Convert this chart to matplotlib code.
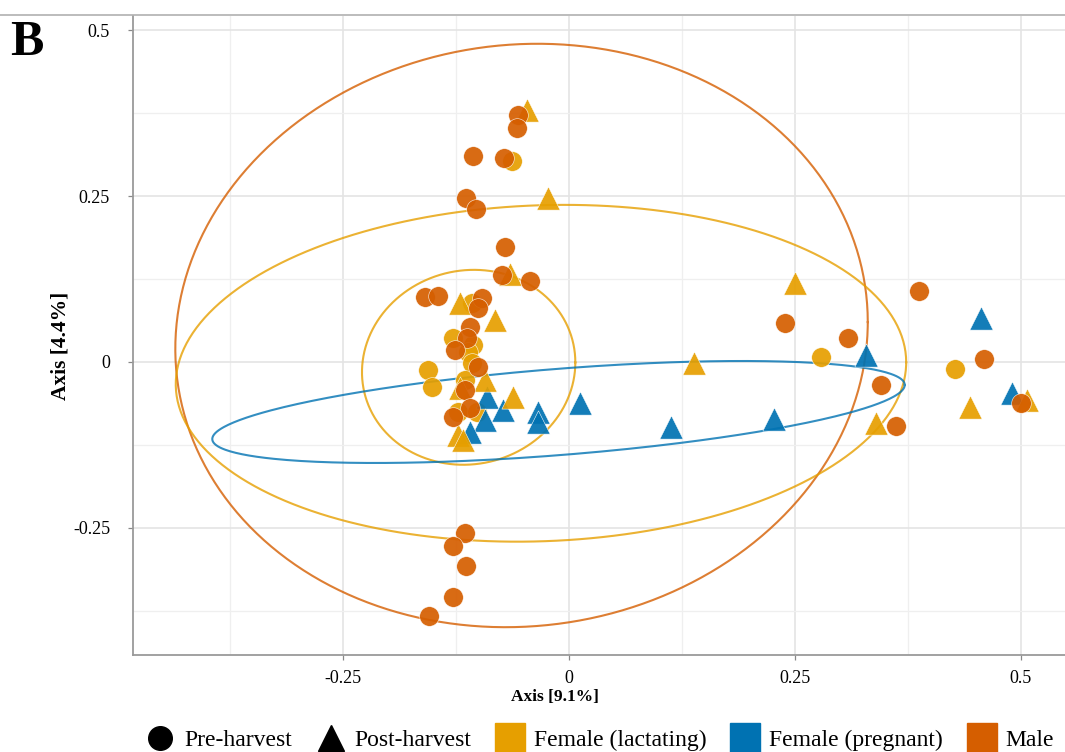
import numpy as np
import matplotlib
matplotlib.use("Agg")
import matplotlib.pyplot as plt
from matplotlib.lines import Line2D
from matplotlib.ticker import MultipleLocator

plt.rcParams['font.family'] = ['Liberation Serif', 'DejaVu Serif']

# ---------------- data ----------------
male_pre_x = [-0.056, -0.058, -0.106, -0.072, -0.114, -0.103, -0.071, -0.074, -0.043,
              -0.159, -0.145, -0.096, -0.101, -0.110, -0.113, -0.126, -0.101, -0.115,
              -0.110, -0.128, -0.115, -0.128, -0.114, -0.128, -0.155,
              0.239, 0.387, 0.309, 0.459, 0.345, 0.500, 0.362]
male_pre_y = [0.373, 0.353, 0.311, 0.308, 0.247, 0.231, 0.173, 0.131, 0.122,
              0.098, 0.100, 0.097, 0.081, 0.053, 0.036, 0.018, -0.008, -0.042,
              -0.069, -0.083, -0.258, -0.278, -0.308, -0.354, -0.383,
              0.059, 0.107, 0.036, 0.005, -0.035, -0.062, -0.097]

lact_pre_x = [-0.063, -0.107, -0.128, -0.106, -0.112, -0.107, -0.156, -0.152, -0.115,
              -0.123, -0.102, 0.279, 0.427]
lact_pre_y = [0.303, 0.089, 0.036, 0.026, 0.015, -0.002, -0.012, -0.038, -0.027,
              -0.075, -0.075, 0.008, -0.011]

lact_post_x = [-0.046, -0.023, -0.065, -0.121, -0.082, -0.093, -0.121, -0.062, -0.123,
               -0.117, 0.250, 0.138, 0.340, 0.444, 0.507]
lact_post_y = [0.380, 0.247, 0.133, 0.089, 0.063, -0.027, -0.039, -0.053, -0.110,
               -0.118, 0.119, -0.002, -0.092, -0.068, -0.057]

preg_post_x = [-0.091, -0.073, -0.093, -0.110, -0.034, -0.034, 0.012, 0.113, 0.227,
               0.329, 0.456, 0.490]
preg_post_y = [-0.053, -0.072, -0.087, -0.106, -0.075, -0.090, -0.062, -0.098, -0.086,
               0.011, 0.066, -0.047]

# ellipse summaries: centre x, centre y, x half-range, y half-range, tilt phase
ell_male = (-0.0525, 0.040, 0.383, 0.440, 0.046)
ell_lact_pre = (-0.031, -0.017, 0.404, 0.254, 0.065)
ell_lact_post = (-0.111, -0.008, 0.118, 0.147, 0.05)
ell_preg_post = (-0.0116, -0.0754, 0.383, 0.0769, 0.559)

x_ticks = [-0.25, 0, 0.25, 0.5]
x_ticklabels = ['-0.25', '0', '0.25', '0.5']
y_ticks = [-0.25, 0, 0.25, 0.5]
y_ticklabels = ['-0.25', '0', '0.25', '0.5']

C_LACT = '#E69F00'
C_PREG = '#0072B2'
C_MALE = '#D55E00'

# ---------------- figure ----------------
W, H = 1065, 752
fig = plt.figure(figsize=(W / 100, H / 100), dpi=100)
ax_left, ax_right, ax_bottom, ax_top = 133, 1065, 655, 16
ax = fig.add_axes([ax_left / W, 1 - ax_bottom / H, (ax_right - ax_left) / W, (ax_bottom - ax_top) / H])

x_px0, x_scale = 569, 904
y_px0, y_scale = 362, 663
ax.set_xlim((ax_left - x_px0) / x_scale, (ax_right - x_px0) / x_scale)
ax.set_ylim((y_px0 - ax_bottom) / y_scale, (y_px0 - ax_top) / y_scale)

ax.xaxis.set_minor_locator(MultipleLocator(0.125))
ax.yaxis.set_minor_locator(MultipleLocator(0.125))
ax.set_xticks(x_ticks)
ax.set_xticklabels(x_ticklabels)
ax.set_yticks(y_ticks)
ax.set_yticklabels(y_ticklabels)
ax.grid(which='major', color='#e4e4e4', lw=1.2, zorder=0)
ax.grid(which='minor', color='#efefef', lw=0.9, zorder=0)
ax.set_axisbelow(True)
ax.tick_params(which='minor', length=0)
ax.tick_params(which='major', length=3.5, width=0.9, color='#888888', labelsize=13, pad=7)
ax.tick_params(axis='y', pad=13)
for s in ['top', 'right']:
    ax.spines[s].set_visible(False)
for s in ['left', 'bottom']:
    ax.spines[s].set_color('#9a9a9a')
    ax.spines[s].set_linewidth(1.3)

# ellipses
t = np.linspace(0, 2 * np.pi, 400)
def draw_ell(p, color):
    cx, cy, rx, ry, ph = p
    ax.plot(cx + rx * np.cos(t), cy + ry * np.sin(t + ph), color=color, lw=1.5, alpha=0.8, zorder=2)

draw_ell(ell_male, C_MALE)
draw_ell(ell_lact_pre, C_LACT)
draw_ell(ell_lact_post, C_LACT)
draw_ell(ell_preg_post, C_PREG)

# points
kw = dict(edgecolors='white', linewidths=0.4, alpha=0.92)
ax.scatter(lact_pre_x, lact_pre_y, s=200, marker='o', color=C_LACT, zorder=3, **kw)
ax.scatter(preg_post_x, preg_post_y, s=280, marker='^', color=C_PREG, zorder=4, **kw)
ax.scatter(male_pre_x, male_pre_y, s=200, marker='o', color=C_MALE, zorder=5, **kw)
ax.scatter(lact_post_x, lact_post_y, s=280, marker='^', color=C_LACT, zorder=4.5, **kw)

# labels
fig.text(555 / W, 1 - 697 / H, 'Axis [9.1%]', ha='center', va='center', fontsize=12.5, fontweight='bold')
fig.text(60 / W, 1 - 346 / H, 'Axis [4.4%]', ha='center', va='center', rotation=90, fontsize=15.5, fontweight='bold')
fig.text(10 / W, 1 - 55 / H, 'B', ha='left', va='baseline', fontsize=36, fontweight='bold')

# top separator line
fig.add_artist(Line2D([0, 1], [1 - 15 / H, 1 - 15 / H], color='#b0b0b0', lw=1.2))

# legend
handles = [
    Line2D([], [], ls='none', marker='o', color='black', markersize=17),
    Line2D([], [], ls='none', marker='^', color='black', markersize=19),
    Line2D([], [], ls='none', marker='s', color=C_LACT, markersize=21),
    Line2D([], [], ls='none', marker='s', color=C_PREG, markersize=21),
    Line2D([], [], ls='none', marker='s', color=C_MALE, markersize=21),
]
labels = ['Pre-harvest', 'Post-harvest', 'Female (lactating)', 'Female (pregnant)', 'Male']
fig.legend(handles, labels, loc='center', bbox_to_anchor=(600 / W, 1 - 740 / H), ncol=5,
           frameon=False, fontsize=17, handlelength=1.2, handletextpad=0.4,
           columnspacing=1.05, borderpad=0, borderaxespad=0)

fig.savefig('out.png', dpi=100)
